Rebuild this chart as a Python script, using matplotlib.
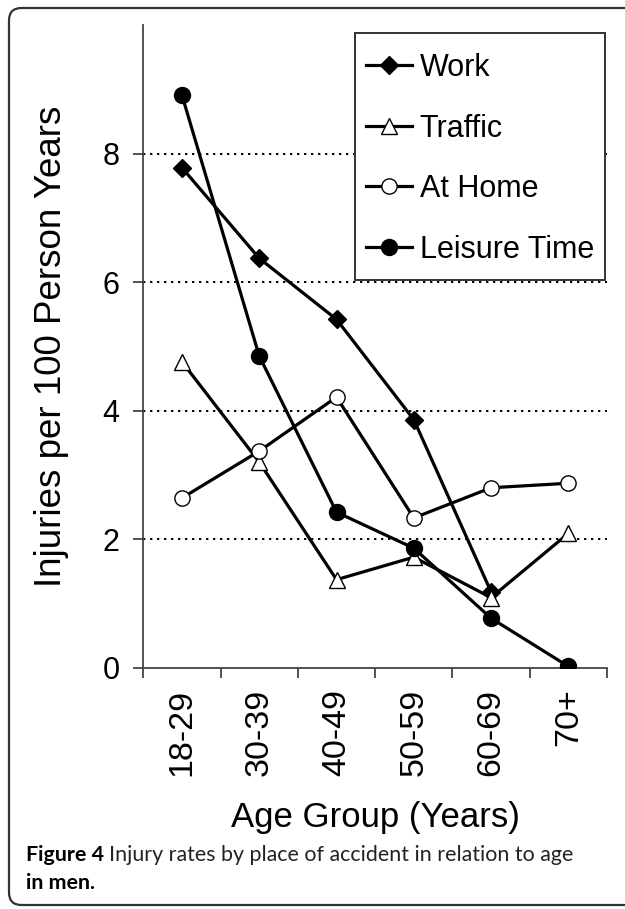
import numpy as np
import matplotlib
matplotlib.use("Agg")
import matplotlib.pyplot as plt
from matplotlib.patches import FancyBboxPatch, Rectangle

# ── data ───────────────────────────────────────────────────────
age_groups = ["18-29", "30-39", "40-49", "50-59", "60-69", "70+"]
work = [7.78, 6.37, 5.42, 3.86, 1.18, np.nan]
traffic = [4.76, 3.20, 1.37, 1.72, 1.09, 2.09]
at_home = [2.64, 3.37, 4.21, 2.33, 2.80, 2.87]
leisure = [8.91, 4.85, 2.42, 1.86, 0.77, 0.02]
y_ticks = [0, 2, 4, 6, 8]
grid_levels = [2, 4, 6, 8]

plt.rcParams["font.family"] = ["Liberation Sans", "DejaVu Sans"]

W, H = 625, 909
fig = plt.figure(figsize=(W / 100, H / 100), dpi=100)

# rounded frame round the whole figure (right side runs off the page)
frame = FancyBboxPatch((9 / W, 4 / H), 700 / W, (H - 12) / H,
                       boxstyle="round,pad=0,rounding_size=0.02",
                       transform=fig.transFigure, fill=False,
                       edgecolor="#333333", linewidth=1.6,
                       mutation_aspect=W / H)
fig.patches.append(frame)

ax = fig.add_axes([143.3 / W, (H - 667.7) / H, (607 - 143.3) / W, (667.7 - 25) / H])

x = np.arange(len(age_groups)) + 0.5
line_kw = dict(color="black", linewidth=2.3, markeredgecolor="black",
               markeredgewidth=1.0, zorder=3)
ax.plot(x, work, marker="D", markersize=9, markerfacecolor="black",
        label="Work", **line_kw)
ax.plot(x, traffic, marker="^", markersize=11.5, markerfacecolor="white",
        label="Traffic", **line_kw)
ax.plot(x, at_home, marker="o", markersize=11, markerfacecolor="white",
        label="At Home", **line_kw)
ax.plot(x, leisure, marker="o", markersize=11.5, markerfacecolor="black",
        label="Leisure Time", **line_kw)

for g in grid_levels:
    ax.axhline(g, color="black", linewidth=1.4, linestyle=(0, (1.2, 2.4)),
               zorder=1)

ax.set_xlim(0, len(age_groups))
ax.set_ylim(0, 10)

# category boundaries carry the tick marks, labels sit between them
ax.set_xticks(np.arange(len(age_groups) + 1))
ax.set_xticklabels([])
ax.set_xticks(x, minor=True)
ax.set_xticklabels(age_groups, minor=True, rotation=90, fontsize=24.5)
ax.tick_params(axis="x", which="major", direction="out", length=7.2,
               width=1.3, color="#444444")
ax.tick_params(axis="x", which="minor", length=0, pad=15)
ax.set_yticks(y_ticks)
ax.tick_params(axis="y", direction="out", length=7.2, width=1.3,
               color="#444444", labelsize=22, pad=10)

for side in ["top", "right"]:
    ax.spines[side].set_visible(False)
for side in ["left", "bottom"]:
    ax.spines[side].set_color("#444444")
    ax.spines[side].set_linewidth(1.3)

ax.set_xlabel("Age Group (Years)", fontsize=25, labelpad=18)
ax.set_ylabel("Injuries per 100 Person Years", fontsize=26.5, labelpad=24)

# legend box drawn separately so its padding can match the reference
box = Rectangle((355 / W, (H - 280) / H), 250 / W, 247 / H,
                transform=fig.transFigure, facecolor="white",
                edgecolor="#333333", linewidth=1.4, zorder=2)
fig.patches.append(box)
handles, labels = ax.get_legend_handles_labels()
leg = fig.legend(handles, labels, loc="upper left",
                 bbox_to_anchor=(366 / W, (H - 53) / H),
                 fontsize=22, frameon=False, borderpad=0,
                 labelspacing=1.0, handlelength=1.5, handletextpad=0.26,
                 borderaxespad=0)
leg.set_zorder(3)

# caption: bold figure number, regular title, bold last line
cap_font = ["Lato", "DejaVu Sans"]
t1 = fig.text(26 / W, (H - 855) / H, "Figure 4", fontsize=15.4,
              fontweight="bold", family=cap_font, va="center")
fig.canvas.draw()
bb = t1.get_window_extent()
fig.text((bb.x1 + 5) / W, (H - 855) / H,
         "Injury rates by place of accident in relation to age",
         fontsize=15.4, family=cap_font, va="center", color="#222222")
fig.text(26 / W, (H - 883) / H, "in men.", fontsize=15.4,
         fontweight="bold", family=cap_font, va="center")

fig.savefig("out.png", dpi=100)
